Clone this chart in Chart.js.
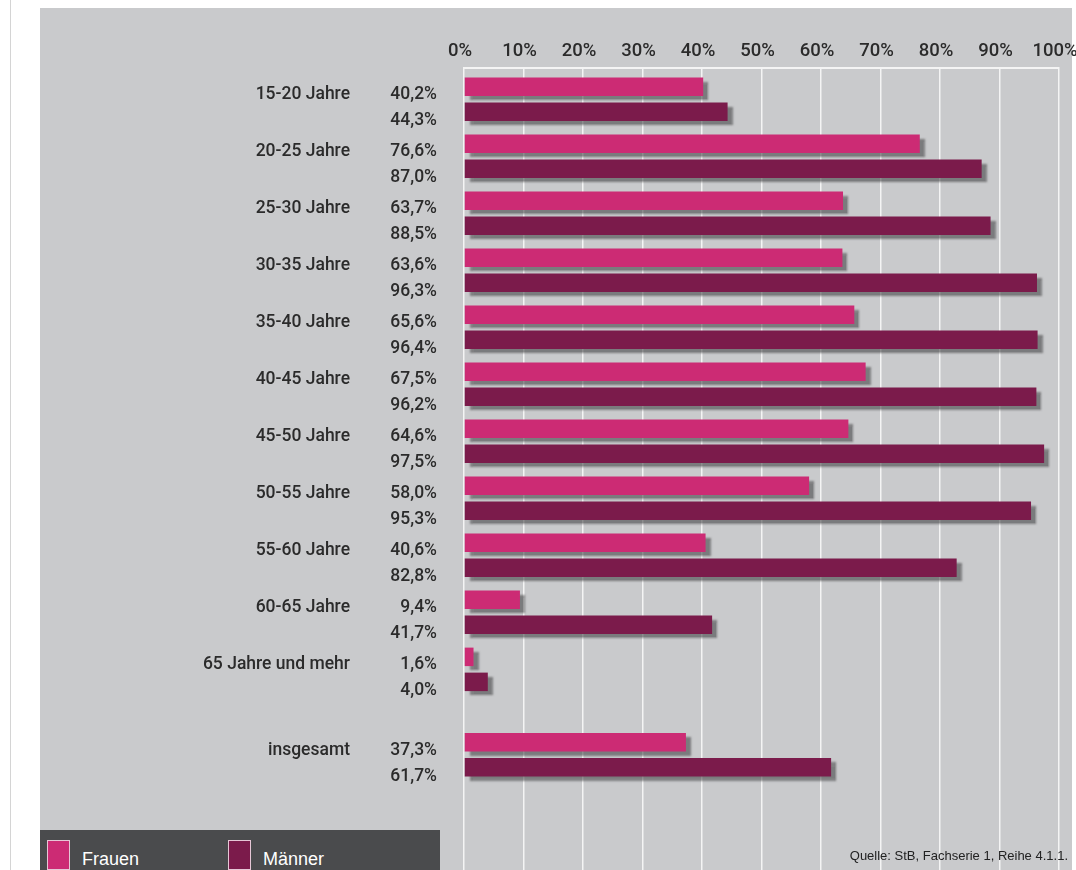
<!DOCTYPE html>
<html lang="de">
<head>
<meta charset="utf-8">
<title>Erwerbsquoten nach Alter</title>
<script src="https://cdn.jsdelivr.net/npm/chart.js@4/dist/chart.umd.min.js"></script>
<style>
    html, body {
        margin: 0;
        padding: 0;
        background: #fff;
        width: 1076px;
        height: 870px;
        overflow: hidden;
        font-family: "Liberation Sans", Arial, sans-serif;
    }
    .edge-line {
        position: absolute;
        left: 10px;
        top: 0;
        width: 1px;
        height: 870px;
        background: #d4d4d4;
    }
    .panel {
        position: absolute;
        left: 40px;
        top: 8px;
        width: 1032px;
        height: 862px;
        background: #c9cacc;
    }
    .chart-box {
        position: absolute;
        left: 0;
        top: 0;
        width: 1076px;
        height: 870px;
    }
    .legend {
        position: absolute;
        left: 40px;
        top: 830px;
        width: 400px;
        height: 40px;
        background: #4a4b4d;
    }
    .legend-item {
        position: absolute;
        top: 10px;
        display: flex;
        align-items: flex-start;
        color: #fff;
        font-size: 18px;
    }
    .legend-item .swatch {
        width: 23px;
        height: 30px;
        border: 1px solid #e6c7d6;
        box-sizing: border-box;
        margin-right: 12px;
    }
    .legend-item span {
        margin-top: 9px;
    }
    .source {
        position: absolute;
        right: 8px;
        top: 848px;
        font-size: 13px;
        color: #222;
    }
</style>
</head>
<body>
<div class="edge-line"></div>
<div class="panel"></div>
<div class="chart-box"><canvas id="employmentChart"></canvas></div>
<div class="legend" id="legend"></div>
<div class="source">Quelle: StB, Fachserie 1, Reihe 4.1.1.</div>

<script>
// Data
const categories = ['15-20 Jahre', '20-25 Jahre', '25-30 Jahre', '30-35 Jahre', '35-40 Jahre', '40-45 Jahre',
    '45-50 Jahre', '50-55 Jahre', '55-60 Jahre', '60-65 Jahre', '65 Jahre und mehr', 'insgesamt'];
const frauen = [40.2, 76.6, 63.7, 63.6, 65.6, 67.5, 64.6, 58.0, 40.6, 9.4, 1.6, 37.3];
const maenner = [44.3, 87.0, 88.5, 96.3, 96.4, 96.2, 97.5, 95.3, 82.8, 41.7, 4.0, 61.7];
const xTicks = [0, 10, 20, 30, 40, 50, 60, 70, 80, 90, 100];

// the "insgesamt" row sits a little further down than the age groups
const totalGap = 0.5;
const rowPos = categories.map((c, i) => i === categories.length - 1 ? i + totalGap : i);

const pink = '#cc2b74';
const maroon = '#7b1b4b';
const textColor = '#2b2b2b';
const labelFont = 'Roboto, "Liberation Sans", Arial, sans-serif';

const fmt = v => v.toFixed(1).replace('.', ',') + '%';

// Drop shadow under the bars
const barShadow = {
    id: 'barShadow',
    beforeDatasetDraw(chart) {
        const ctx = chart.ctx;
        ctx.save();
        ctx.shadowColor = 'rgba(70, 70, 72, 0.6)';
        ctx.shadowOffsetX = 5;
        ctx.shadowOffsetY = 4;
        ctx.shadowBlur = 2;
    },
    afterDatasetDraw(chart) {
        chart.ctx.restore();
    }
};

// Category names and values to the left of the bars
const sideLabels = {
    id: 'sideLabels',
    afterDraw(chart) {
        const ctx = chart.ctx;
        const metaF = chart.getDatasetMeta(0);
        const metaM = chart.getDatasetMeta(1);
        ctx.save();
        ctx.fillStyle = textColor;
        ctx.font = '500 17.5px ' + labelFont;
        ctx.textAlign = 'right';
        ctx.textBaseline = 'middle';
        categories.forEach((name, i) => {
            const yF = metaF.data[i].y + 8;
            const yM = metaM.data[i].y + 9;
            ctx.fillText(name, 350, yF);
            ctx.fillText(fmt(frauen[i]), 437, yF);
            ctx.fillText(fmt(maenner[i]), 437, yM);
        });
        ctx.restore();
    }
};

const ctx = document.getElementById('employmentChart').getContext('2d');
const employmentChart = new Chart(ctx, {
    type: 'bar',
    data: {
        datasets: [{
            label: 'Frauen',
            data: frauen.map((v, i) => ({ x: v, y: rowPos[i] })),
            backgroundColor: pink,
            borderWidth: 0
        }, {
            label: 'Männer',
            data: maenner.map((v, i) => ({ x: v, y: rowPos[i] })),
            backgroundColor: maroon,
            borderWidth: 0
        }]
    },
    options: {
        indexAxis: 'y',
        responsive: true,
        maintainAspectRatio: false,
        animation: false,
        categoryPercentage: 0.877,
        barPercentage: 0.74,
        layout: {
            padding: { left: 464, right: 17, top: 28, bottom: 0 }
        },
        plugins: {
            legend: { display: false },
            tooltip: { enabled: false }
        },
        scales: {
            x: {
                position: 'top',
                min: 0,
                max: 100,
                afterBuildTicks: scale => {
                    scale.ticks = xTicks.map(v => ({ value: v }));
                },
                afterFit: scale => {
                    scale.height = 40;
                    scale.paddingLeft = 0;
                    scale.paddingRight = 0;
                },
                ticks: {
                    padding: 6,
                    labelOffset: -4,
                    maxRotation: 0,
                    autoSkip: false,
                    color: textColor,
                    font: { family: labelFont, size: 18.5, weight: 500 },
                    callback: function(value) {
                        return value + '%';
                    }
                },
                grid: {
                    color: '#f4f4f4',
                    lineWidth: 1.5,
                    drawTicks: false
                },
                border: {
                    display: true,
                    color: '#f4f4f4',
                    width: 2
                }
            },
            y: {
                type: 'linear',
                reverse: true,
                offset: false,
                min: -0.55,
                max: 13.52,
                display: false,
                afterBuildTicks: scale => {
                    scale.ticks = rowPos.map(v => ({ value: v }));
                }
            }
        }
    },
    plugins: [barShadow, sideLabels]
});

// Legend
const legend = document.getElementById('legend');
employmentChart.data.datasets.forEach((ds, i) => {
    const item = document.createElement('div');
    item.className = 'legend-item';
    item.style.left = (7 + i * 181) + 'px';
    item.innerHTML = '<div class="swatch" style="background:' + ds.backgroundColor + '"></div><span>' + ds.label + '</span>';
    legend.appendChild(item);
});
</script>
</body>
</html>
